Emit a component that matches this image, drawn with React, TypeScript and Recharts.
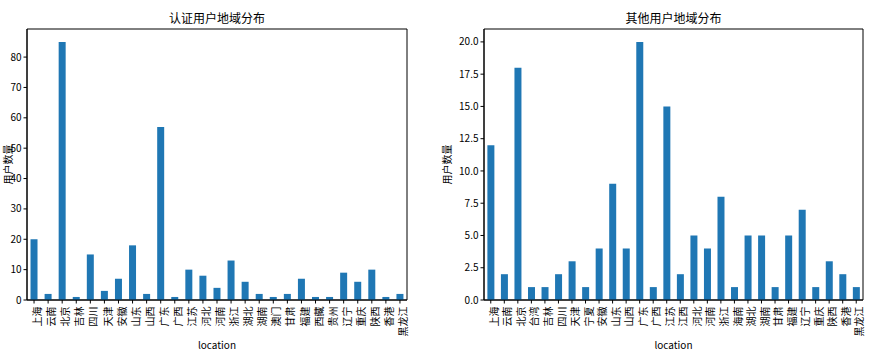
import { BarChart, Bar, XAxis, YAxis, Label, ReferenceArea } from 'recharts'

const certCities = ['上海', '云南', '北京', '吉林', '四川', '天津', '安徽', '山东', '山西', '广东', '广西', '江苏', '河北', '河南', '浙江', '湖北', '湖南', '澳门', '甘肃', '福建', '西藏', '贵州', '辽宁', '重庆', '陕西', '香港', '黑龙江']
const certCounts = [20, 2, 85, 1, 15, 3, 7, 18, 2, 57, 1, 10, 8, 4, 13, 6, 2, 1, 2, 7, 1, 1, 9, 6, 10, 1, 2]

const otherCities = ['上海', '云南', '北京', '台湾', '吉林', '四川', '天津', '宁夏', '安徽', '山东', '山西', '广东', '广西', '江苏', '江西', '河北', '河南', '浙江', '海南', '湖北', '湖南', '甘肃', '福建', '辽宁', '重庆', '陕西', '香港', '黑龙江']
const otherCounts = [12, 2, 18, 1, 1, 2, 3, 1, 4, 9, 4, 20, 1, 15, 2, 5, 4, 8, 1, 5, 5, 1, 5, 7, 1, 3, 2, 1]

const certTicks = [0, 10, 20, 30, 40, 50, 60, 70, 80]
const otherTicks = [0, 2.5, 5, 7.5, 10, 12.5, 15, 17.5, 20]

const FONT = '"Noto Sans CJK SC", "DejaVu Sans", sans-serif'
const BLUE = '#1f77b4'

const tickStyle = { fontSize: 10, fill: '#000', fontFamily: FONT }

type PanelProps = {
	title: string
	cities: string[]
	counts: number[]
	ticks: number[]
	max: number
	width: number
	yWidth: number
	right: number
	labelX: number
	fmt: (v: number) => string
}

const Panel = ({ title, cities, counts, ticks, max, width, yWidth, right, labelX, fmt }: PanelProps) => {
	const data = cities.map((c, i) => ({ name: c, count: counts[i] }))
	return (
		<BarChart
			width={width}
			height={361}
			data={data}
			margin={{ top: 29, right, bottom: 0, left: 0 }}
			barCategoryGap="25%"
		>
			<XAxis
				dataKey="name"
				interval={0}
				height={61}
				tickSize={3.5}
				stroke="#000"
				tick={{ ...tickStyle, angle: -90, textAnchor: 'end', verticalAnchor: 'middle' } as any}
				tickMargin={3}
			>
				<Label value="location" position="insideBottom" offset={12} style={{ fontSize: 10, fill: '#000', fontFamily: FONT }} />
			</XAxis>
			<YAxis
				domain={[0, max]}
				ticks={ticks}
				width={yWidth}
				tickSize={3.5}
				stroke="#000"
				tick={tickStyle}
				tickFormatter={fmt}
				allowDataOverflow
			>
				<Label value="用户数量" angle={-90} position="insideLeft" offset={labelX} style={{ fontSize: 10, fill: '#000', fontFamily: FONT, textAnchor: 'middle' }} />
			</YAxis>
			<Bar dataKey="count" fill={BLUE} isAnimationActive={false} />
			<ReferenceArea y1={0} y2={max} fill="none" stroke="#000" strokeWidth={1} ifOverflow="visible">
				<Label value={title} position="top" offset={6} style={{ fontSize: 12, fill: '#000', fontFamily: FONT }} />
			</ReferenceArea>
		</BarChart>
	)
}

export default function App() {
	return (
		<div style={{ position: 'absolute', left: 0, top: 0, width: 889, height: 361, background: '#fff' }}>
			<div style={{ position: 'absolute', left: 0, top: 0 }}>
				<Panel
					title="认证用户地域分布"
					cities={certCities}
					counts={certCounts}
					ticks={certTicks}
					max={89.25}
					width={440}
					yWidth={27}
					right={33}
					labelX={8}
					fmt={(v) => String(v)}
				/>
			</div>
			<div style={{ position: 'absolute', left: 440, top: 0 }}>
				<Panel
					title="其他用户地域分布"
					cities={otherCities}
					counts={otherCounts}
					ticks={otherTicks}
					max={21}
					width={449}
					yWidth={44}
					right={26}
					labelX={7}
					fmt={(v) => v.toFixed(1)}
				/>
			</div>
		</div>
	)
}
